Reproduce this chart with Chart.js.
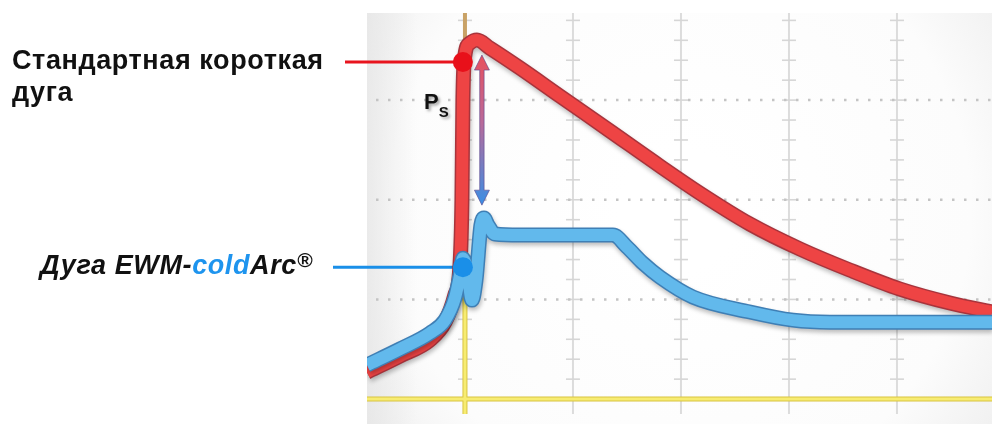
<!DOCTYPE html>
<html><head><meta charset="utf-8">
<script src="https://cdn.jsdelivr.net/npm/chart.js@4/dist/chart.umd.min.js"></script>
<style>
html,body{margin:0;padding:0;background:#fff;}
#wrap{position:relative;width:992px;height:424px;overflow:hidden;}
canvas{position:absolute;left:0;top:0;}
.lbl{position:absolute;font-family:"Liberation Sans",Arial,sans-serif;font-weight:bold;font-size:27px;letter-spacing:0.6px;line-height:32px;color:#111;white-space:nowrap;}
#ps{font-size:22px;line-height:22px;letter-spacing:0;text-shadow:2px 2px 3px rgba(0,0,0,0.35);}
#ps span{font-size:15px;position:relative;top:8px;}
</style></head><body>
<div id="wrap">
<canvas id="c" width="992" height="424"></canvas>
<div class="lbl" id="l1" style="left:12px;top:44px;">Стандартная короткая<br>дуга</div>
<div class="lbl" id="l2" style="left:40px;top:249px;font-style:italic;">Дуга EWM-<span style="color:#1e94ee">cold</span>Arc<span style="font-size:21px;position:relative;top:-7px;">®</span></div>
<div class="lbl" id="ps" style="left:424px;top:91px;">P<span>S</span></div>
</div>
<script>
// ---- data (time in grid divisions, value in minor divisions) ----
const redX  = [-0.907,-0.602,-0.324,-0.185,-0.093,-0.046,-0.028,-0.019,0,0.046,0.111,0.231,0.509,0.880,1.343,1.806,2.176,2.639,3.102,3.565,4.028,4.491,4.88];
const redY  = [1.35,2.16,2.96,3.86,5.22,6.72,9.98,15.0,17.26,17.86,18.01,17.61,16.61,15.20,13.45,11.69,10.33,8.78,7.53,6.47,5.52,4.82,4.37];
const blueX = [-0.907,-0.602,-0.324,-0.185,-0.093,-0.046,-0.019,0.019,0.065,0.102,0.148,0.176,0.213,0.278,0.509,1.37,1.5,1.648,1.806,2.111,2.639,3.037,3.38,4.88];
const blueY = [1.71,2.51,3.31,3.96,5.07,6.22,7.07,6.47,4.97,5.97,8.73,9.08,8.73,8.28,8.23,8.23,7.63,6.82,6.12,5.12,4.37,3.96,3.86,3.86];
const markerX = [-0.019,-0.019];
const markerY = [16.91,6.62];
const xGrid = [1,2,3,4];
const yMajor = [5,10,15];
const arrowX = 0.157, arrowTop = 17.26, arrowBottom = 9.73;

const pts = (xa, ya) => xa.map((x,i)=>({x, y: ya[i]}));

const curveStyle = {
  id:'curveStyle',
  beforeDatasetDraw(chart, args){
    const ds = chart.data.datasets[args.index];
    chart.ctx.save();
    if (ds.shadow){
      chart.ctx.shadowColor='rgba(0,0,0,0.25)';
      chart.ctx.shadowBlur=4; chart.ctx.shadowOffsetX=1; chart.ctx.shadowOffsetY=3;
    }
  },
  afterDatasetDraw(chart){ chart.ctx.restore(); }
};

const decor = {
  id:'decor',
  beforeDatasetsDraw(chart){
    const ctx=chart.ctx, a=chart.chartArea, xs=chart.scales.x, ys=chart.scales.y;
    const X=v=>xs.getPixelForValue(v), Y=v=>ys.getPixelForValue(v);
    ctx.save();
    // background
    const g=ctx.createRadialGradient(680,210,60,680,210,480);
    g.addColorStop(0,'#ffffff'); g.addColorStop(0.55,'#fcfcfc'); g.addColorStop(1,'#e4e4e4');
    ctx.fillStyle=g; ctx.fillRect(a.left,a.top,a.right-a.left,a.bottom-a.top);
    const gl=ctx.createLinearGradient(a.left,0,a.left+50,0);
    gl.addColorStop(0,'rgba(228,228,228,0.7)'); gl.addColorStop(1,'rgba(228,228,228,0)');
    ctx.fillStyle=gl; ctx.fillRect(a.left,a.top,50,a.bottom-a.top);
    // vertical grid
    ctx.strokeStyle='#dcdcdc'; ctx.lineWidth=2;
    xGrid.forEach(v=>{ctx.beginPath();ctx.moveTo(X(v),a.top);ctx.lineTo(X(v),Y(-0.75));ctx.stroke();});
    // cross ticks
    ctx.strokeStyle='#d6d6d6'; ctx.lineWidth=1.6;
    [0].concat(xGrid).forEach(v=>{
      for(let k=1;k<=19;k++){ctx.beginPath();ctx.moveTo(X(v)-7,Y(k));ctx.lineTo(X(v)+7,Y(k));ctx.stroke();}
    });
    // dotted horizontals
    ctx.setLineDash([2.5,9.5]); ctx.strokeStyle='#c4c4c4'; ctx.lineWidth=2.5;
    yMajor.forEach(v=>{ctx.beginPath();ctx.moveTo(a.left+9,Y(v));ctx.lineTo(a.right,Y(v));ctx.stroke();});
    ctx.setLineDash([]);
    // yellow axes
    ctx.lineCap='butt';
    ctx.strokeStyle='#d8c440'; ctx.lineWidth=5;
    ctx.beginPath();ctx.moveTo(a.left,Y(0));ctx.lineTo(a.right,Y(0));ctx.stroke();
    ctx.beginPath();ctx.moveTo(X(0),Y(17));ctx.lineTo(X(0),Y(-0.75));ctx.stroke();
    ctx.strokeStyle='#f7ec72'; ctx.lineWidth=3;
    ctx.beginPath();ctx.moveTo(a.left,Y(0));ctx.lineTo(a.right,Y(0));ctx.stroke();
    ctx.beginPath();ctx.moveTo(X(0),Y(17));ctx.lineTo(X(0),Y(-0.75));ctx.stroke();
    ctx.strokeStyle='#c9a266'; ctx.lineWidth=4;
    ctx.beginPath();ctx.moveTo(X(0),a.top);ctx.lineTo(X(0),Y(17));ctx.stroke();
    // connector lines
    ctx.lineWidth=3;
    ctx.strokeStyle='#e8141e';
    ctx.beginPath();ctx.moveTo(345,Y(markerY[0]));ctx.lineTo(X(markerX[0]),Y(markerY[0]));ctx.stroke();
    ctx.strokeStyle='#1a8fe8';
    ctx.beginPath();ctx.moveTo(333,Y(markerY[1]));ctx.lineTo(X(markerX[1]),Y(markerY[1]));ctx.stroke();
    ctx.restore();
  },
  afterDatasetsDraw(chart){
    const ctx=chart.ctx, xs=chart.scales.x, ys=chart.scales.y;
    const x=xs.getPixelForValue(arrowX), y1=ys.getPixelForValue(arrowTop), y2=ys.getPixelForValue(arrowBottom);
    ctx.save();
    const gr=ctx.createLinearGradient(0,y1,0,y2);
    gr.addColorStop(0,'#e8505e'); gr.addColorStop(0.45,'#b86a9a'); gr.addColorStop(1,'#3a8ee4');
    const h=15, w=7.5, sw=2.2;
    ctx.beginPath();
    ctx.moveTo(x,y1); ctx.lineTo(x+w,y1+h); ctx.lineTo(x+sw,y1+h); ctx.lineTo(x+sw,y2-h);
    ctx.lineTo(x+w,y2-h); ctx.lineTo(x,y2); ctx.lineTo(x-w,y2-h); ctx.lineTo(x-sw,y2-h);
    ctx.lineTo(x-sw,y1+h); ctx.lineTo(x-w,y1+h); ctx.closePath();
    ctx.fillStyle=gr; ctx.fill();
    ctx.strokeStyle='rgba(90,70,140,0.6)'; ctx.lineWidth=1; ctx.stroke();
    ctx.restore();
  }
};

new Chart(document.getElementById('c'), {
  type:'line',
  data:{datasets:[
    {data:pts(markerX,markerY), showLine:false, pointRadius:10, pointHoverRadius:10,
     pointBackgroundColor:['#e8101a','#1a8fe8'], pointBorderWidth:0, clip:false, order:0},
    {data:pts(blueX,blueY), borderColor:'#62b9ec', borderWidth:12, pointRadius:0, cubicInterpolationMode:'monotone',
     borderJoinStyle:'round', borderCapStyle:'butt', order:1},
    {data:pts(blueX,blueY), borderColor:'#3f7fb5', borderWidth:15, pointRadius:0, cubicInterpolationMode:'monotone',
     borderJoinStyle:'round', borderCapStyle:'butt', shadow:true, order:2},
    {data:pts(redX,redY), borderColor:'#ee4444', borderWidth:12, pointRadius:0, cubicInterpolationMode:'monotone',
     borderJoinStyle:'round', borderCapStyle:'butt', order:3},
    {data:pts(redX,redY), borderColor:'#a8343c', borderWidth:15, pointRadius:0, cubicInterpolationMode:'monotone',
     borderJoinStyle:'round', borderCapStyle:'butt', shadow:true, order:4}
  ]},
  options:{
    responsive:false, animation:false, devicePixelRatio:1,
    layout:{autoPadding:false, padding:{left:367,top:13,right:0,bottom:0}},
    plugins:{legend:{display:false},tooltip:{enabled:false}},
    events:[],
    scales:{
      x:{type:'linear',min:-0.907,max:4.88,display:false},
      y:{type:'linear',min:-1.25,max:19.37,display:false}
    }
  },
  plugins:[decor, curveStyle]
});
</script>
</body></html>
